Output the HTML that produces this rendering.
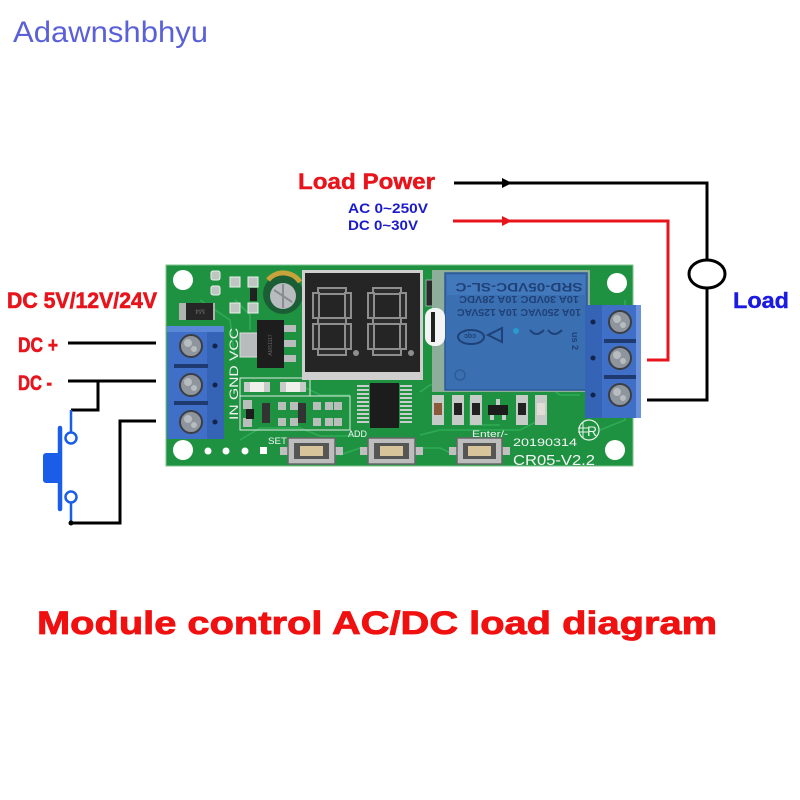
<!DOCTYPE html>
<html><head><meta charset="utf-8"><style>
html,body{margin:0;padding:0;background:#fff;}
svg{display:block;}
text{font-family:"Liberation Sans",sans-serif;}
</style></head><body>
<svg width="800" height="800" viewBox="0 0 800 800" xmlns="http://www.w3.org/2000/svg">
<rect width="800" height="800" fill="#fff"/>
<!-- watermark -->
<text x="13" y="42" font-size="30" fill="#5a60d8" textLength="195" lengthAdjust="spacingAndGlyphs">Adawnshbhyu</text>

<!-- top labels -->
<text x="298" y="189" font-size="22" font-weight="bold" fill="#e8141c" stroke="#e8141c" stroke-width="0.4" textLength="137" lengthAdjust="spacingAndGlyphs">Load Power</text>
<text x="348" y="213" font-size="14" font-weight="bold" fill="#1a1acc" textLength="80" lengthAdjust="spacingAndGlyphs">AC 0~250V</text>
<text x="348" y="230" font-size="14" font-weight="bold" fill="#1a1acc" textLength="70" lengthAdjust="spacingAndGlyphs">DC 0~30V</text>
<text x="733" y="308" font-size="22" font-weight="bold" fill="#1a1ae0" stroke="#1a1ae0" stroke-width="0.4" textLength="56" lengthAdjust="spacingAndGlyphs">Load</text>

<!-- load wiring -->
<g fill="none" stroke-linejoin="miter">
<polyline points="454,183 707,183 707,260" stroke="#000" stroke-width="3"/>
<polyline points="707,288 707,400 647,400" stroke="#000" stroke-width="3"/>
<ellipse cx="707" cy="274" rx="18" ry="14" stroke="#000" stroke-width="3"/>
<polyline points="453,221 668,221 668,360 647,360" stroke="#e8141c" stroke-width="3"/>
</g>
<polygon points="502,178 512,183 502,188" fill="#000"/>
<polygon points="502,216 512,221 502,226" fill="#e8141c"/>

<!-- left labels -->
<text x="7" y="308" font-size="22" font-weight="bold" fill="#e8141c" stroke="#e8141c" stroke-width="0.6" textLength="150" lengthAdjust="spacingAndGlyphs">DC 5V/12V/24V</text>
<text x="18" y="352" font-size="21" font-weight="bold" fill="#e8141c" stroke="#e8141c" stroke-width="0.6" textLength="40" lengthAdjust="spacingAndGlyphs">DC +</text>
<text x="18" y="390" font-size="21" font-weight="bold" fill="#e8141c" stroke="#e8141c" stroke-width="0.6" textLength="34" lengthAdjust="spacingAndGlyphs">DC -</text>

<!-- left wiring -->
<g fill="none" stroke="#000" stroke-width="3">
<line x1="68" y1="343" x2="156" y2="343"/>
<line x1="68" y1="381" x2="156" y2="381"/>
<polyline points="98,381 98,410 71,410"/>
<polyline points="71,523 120,523 120,421 156,421"/>
</g>
<!-- switch -->
<g stroke="#1a5de8" fill="none" stroke-width="2.5">
<line x1="71" y1="410" x2="71" y2="432"/>
<circle cx="71" cy="438" r="5.5" fill="#fff"/>
<circle cx="71" cy="497" r="5.5" fill="#fff"/>
<line x1="71" y1="503" x2="71" y2="523"/>
</g>
<line x1="60" y1="428" x2="60" y2="509" stroke="#1a5de8" stroke-width="4.5" stroke-linecap="round"/>
<rect x="43" y="453" width="18" height="30" rx="3" fill="#1a5de8"/>
<circle cx="71" cy="523" r="2.5" fill="#000"/>

<!-- PCB -->
<rect x="166" y="265" width="467" height="201" fill="#1f9242" stroke="#7fc48f" stroke-width="1"/>
<!-- traces -->
<g stroke="#2fab55" stroke-width="1.6" fill="none">
<polyline points="240,440 260,428 300,428 320,436 360,436"/>
<polyline points="235,300 250,315 250,330"/>
<polyline points="420,435 440,430 520,430 540,420"/>
<polyline points="300,385 320,395 350,395"/>
<polyline points="420,392 430,385 445,385"/>
<polyline points="200,300 230,320 235,360"/>
<polyline points="540,380 560,395 580,395"/>
<polyline points="340,455 360,448 440,448 455,455"/>
<polyline points="470,400 470,425 500,425"/>
<polyline points="600,430 625,420 625,300"/>
</g>
<!-- mounting holes -->
<circle cx="183" cy="280" r="10" fill="#fff"/>
<circle cx="183" cy="450" r="10" fill="#fff"/>
<circle cx="617" cy="283" r="10" fill="#fff"/>
<circle cx="615" cy="450" r="10" fill="#fff"/>
<g fill="#fff">
<circle cx="208" cy="451" r="3.5"/><circle cx="226" cy="451" r="3.5"/><circle cx="245" cy="451" r="3.5"/>
<rect x="260" y="447" width="7" height="7"/>
</g>

<!-- top-left small parts -->
<g fill="#bfc6c2" stroke="#e8f0ea" stroke-width="1">
<rect x="211" y="271" width="9" height="9" rx="2"/>
<rect x="211" y="286" width="9" height="9" rx="2"/>
<rect x="230" y="277" width="10" height="10"/>
<rect x="230" y="303" width="10" height="10"/>
<rect x="248" y="277" width="10" height="10"/>
<rect x="248" y="303" width="10" height="10"/>
</g>
<rect x="250" y="288" width="7" height="13" fill="#222"/>
<!-- diode M4 -->
<rect x="179" y="303" width="36" height="17" fill="#b0b4b0"/>
<rect x="186" y="303" width="27" height="17" fill="#262626"/>
<text x="200" y="315" font-size="7" fill="#666" text-anchor="middle" transform="rotate(180 200 312)">M4</text>
<!-- electrolytic cap -->
<circle cx="283" cy="294" r="20" fill="#1b5e36"/>
<path d="M268 280 A20 20 0 0 1 300 282" stroke="#c8a23a" stroke-width="5" fill="none"/>
<circle cx="283" cy="296" r="13" fill="#b9bcbf"/>
<path d="M274 290 L292 302 M283 284 L283 308" stroke="#8a8d90" stroke-width="2"/>
<!-- AMS1117 -->
<rect x="240" y="333" width="18" height="24" fill="#b8bcbc" stroke="#ddd"/>
<rect x="257" y="320" width="27" height="48" fill="#1d1d1d"/>
<g fill="#b8bcbc"><rect x="284" y="325" width="12" height="7"/><rect x="284" y="340" width="12" height="7"/><rect x="284" y="355" width="12" height="7"/></g>
<text x="272" y="345" font-size="5" fill="#666" text-anchor="middle" transform="rotate(-90 272 345)">AMS1117</text>
<!-- VCC GND IN -->
<text x="238" y="420" font-size="12" fill="#f2f2f2" font-family="Liberation Serif,serif" transform="rotate(-90 238 420)" textLength="92" lengthAdjust="spacingAndGlyphs">IN  GND VCC</text>
<!-- resistors 221 -->
<g>
<rect x="244" y="382" width="26" height="10" fill="#c8ccc8"/><rect x="250" y="382" width="14" height="10" fill="#f0f0ea"/>
<rect x="280" y="382" width="26" height="10" fill="#c8ccc8"/><rect x="286" y="382" width="14" height="10" fill="#f0f0ea"/>
<rect x="240" y="378" width="70" height="18" fill="none" stroke="#dfe9e0" stroke-width="1"/>
</g>
<!-- lower pad rows -->
<g fill="#b8bfbb">
<rect x="243" y="400" width="9" height="9"/><rect x="243" y="418" width="9" height="9"/>
<rect x="278" y="402" width="8" height="8"/><rect x="278" y="418" width="8" height="8"/>
<rect x="290" y="402" width="8" height="8"/><rect x="290" y="418" width="8" height="8"/>
<rect x="313" y="402" width="8" height="8"/><rect x="313" y="418" width="8" height="8"/>
<rect x="325" y="402" width="8" height="8"/><rect x="325" y="418" width="8" height="8"/>
<rect x="334" y="402" width="8" height="8"/><rect x="334" y="418" width="8" height="8"/>
</g>
<rect x="246" y="409" width="8" height="10" fill="#1d1d1d"/>
<rect x="262" y="403" width="8" height="20" fill="#333"/>
<rect x="298" y="403" width="8" height="20" fill="#333"/>
<rect x="240" y="396" width="110" height="34" fill="none" stroke="#dfe9e0" stroke-width="1"/>

<!-- display -->
<rect x="302" y="270" width="121" height="110" fill="#cfcfcf"/>
<rect x="305" y="273" width="115" height="99" fill="#252525"/>
<g fill="#2c2c2c" stroke="#8e8e8e" stroke-width="2">
<rect x="318" y="288" width="28" height="6"/>
<rect x="318" y="318" width="28" height="6"/>
<rect x="318" y="349" width="28" height="6"/>
<rect x="313" y="293" width="6" height="25"/>
<rect x="313" y="324" width="6" height="25"/>
<rect x="345" y="293" width="6" height="25"/>
<rect x="345" y="324" width="6" height="25"/>
<rect x="373" y="288" width="28" height="6"/>
<rect x="373" y="318" width="28" height="6"/>
<rect x="373" y="349" width="28" height="6"/>
<rect x="368" y="293" width="6" height="25"/>
<rect x="368" y="324" width="6" height="25"/>
<rect x="400" y="293" width="6" height="25"/>
<rect x="400" y="324" width="6" height="25"/>
</g>
<circle cx="356" cy="353" r="3" fill="#8e8e8e"/>
<circle cx="411" cy="353" r="3" fill="#8e8e8e"/>
<!-- small diode near display -->
<rect x="426" y="280" width="9" height="26" fill="#2a2a2a" stroke="#9aa" stroke-width="1"/>

<!-- IC -->
<g fill="#c8cdca">
<rect x="357" y="385" width="12" height="2"/><rect x="357" y="389" width="12" height="2"/><rect x="357" y="393" width="12" height="2"/><rect x="357" y="397" width="12" height="2"/><rect x="357" y="401" width="12" height="2"/><rect x="357" y="405" width="12" height="2"/><rect x="357" y="409" width="12" height="2"/><rect x="357" y="413" width="12" height="2"/><rect x="357" y="417" width="12" height="2"/><rect x="357" y="421" width="12" height="2"/>
<rect x="400" y="385" width="12" height="2"/><rect x="400" y="389" width="12" height="2"/><rect x="400" y="393" width="12" height="2"/><rect x="400" y="397" width="12" height="2"/><rect x="400" y="401" width="12" height="2"/><rect x="400" y="405" width="12" height="2"/><rect x="400" y="409" width="12" height="2"/><rect x="400" y="413" width="12" height="2"/><rect x="400" y="417" width="12" height="2"/><rect x="400" y="421" width="12" height="2"/>
</g>
<rect x="370" y="383" width="29" height="45" fill="#1c1c1c"/>

<!-- relay -->
<rect x="432" y="270" width="158" height="122" fill="#8fae9a"/>
<rect x="445" y="273" width="142" height="117" fill="#3a6fb2" stroke="#2a5896" stroke-width="1.5"/>
<rect x="447" y="275" width="138" height="20" fill="#4279bd"/>
<g transform="rotate(180 516 331)" fill="#1f4177" font-weight="bold">
<text x="513" y="379" font-size="12" text-anchor="middle" textLength="127" lengthAdjust="spacingAndGlyphs">SRD-05VDC-SL-C</text>
<text x="513" y="366" font-size="10" text-anchor="middle" textLength="120" lengthAdjust="spacingAndGlyphs">10A 30VDC   10A 28VDC</text>
<text x="513" y="353" font-size="10" text-anchor="middle" textLength="124" lengthAdjust="spacingAndGlyphs">10A 250VAC  10A 125VAC</text>
</g>
<g fill="none" stroke="#1f4177" stroke-width="2">
<ellipse cx="471" cy="337" rx="13" ry="7"/>
<polygon points="488,335 502,328 502,342"/>
<path d="M530 330 q6 8 14 0 M548 330 q6 8 14 0"/>
</g>
<text x="470" y="340" font-size="7" fill="#1f4177" text-anchor="middle" font-weight="bold" transform="rotate(180 470 337)">cqc</text>
<text x="572" y="332" font-size="9" fill="#1f4177" font-weight="bold" transform="rotate(90 572 332)">us 2</text>
<circle cx="516" cy="331" r="3" fill="#2a9ad0"/>
<circle cx="460" cy="375" r="5" fill="none" stroke="#2e5c96" stroke-width="1.5"/>
<!-- white oval slot -->
<rect x="425" y="308" width="20" height="38" rx="9" fill="#f4f4f4"/>
<rect x="431" y="312" width="4" height="30" fill="#222"/>

<!-- parts under relay -->
<g>
<rect x="432" y="395" width="12" height="30" fill="#c7cbc8"/>
<rect x="452" y="395" width="12" height="30" fill="#c7cbc8"/>
<rect x="470" y="395" width="12" height="30" fill="#c7cbc8"/>
<rect x="516" y="395" width="12" height="30" fill="#c7cbc8"/>
<rect x="535" y="395" width="12" height="30" fill="#c7cbc8"/>
</g>
<rect x="434" y="403" width="8" height="12" fill="#8a5a3a"/>
<rect x="454" y="403" width="8" height="12" fill="#222"/>
<rect x="472" y="403" width="8" height="12" fill="#222"/>
<rect x="518" y="403" width="8" height="12" fill="#222"/>
<rect x="537" y="403" width="8" height="12" fill="#e0ddd5"/>
<rect x="488" y="405" width="20" height="10" fill="#1c1c1c"/>
<g fill="#c8cdca"><rect x="496" y="399" width="4" height="6"/><rect x="490" y="415" width="4" height="5"/><rect x="502" y="415" width="4" height="5"/></g>

<!-- buttons -->
<g>
<rect x="280" y="447" width="9" height="8" fill="#c0c0c0"/><rect x="334" y="447" width="9" height="8" fill="#c0c0c0"/>
<rect x="288" y="438" width="47" height="26" fill="#bdbdbd" stroke="#666" stroke-width="1.5"/>
<rect x="294" y="443" width="35" height="16" fill="#555"/>
<rect x="300" y="446" width="23" height="10" fill="#d8c49a"/>
<rect x="360" y="447" width="9" height="8" fill="#c0c0c0"/><rect x="414" y="447" width="9" height="8" fill="#c0c0c0"/>
<rect x="368" y="438" width="47" height="26" fill="#bdbdbd" stroke="#666" stroke-width="1.5"/>
<rect x="374" y="443" width="35" height="16" fill="#555"/>
<rect x="380" y="446" width="23" height="10" fill="#d8c49a"/>
<rect x="449" y="447" width="9" height="8" fill="#c0c0c0"/><rect x="501" y="447" width="9" height="8" fill="#c0c0c0"/>
<rect x="457" y="438" width="45" height="26" fill="#bdbdbd" stroke="#666" stroke-width="1.5"/>
<rect x="463" y="443" width="33" height="16" fill="#555"/>
<rect x="468" y="446" width="23" height="10" fill="#d8c49a"/>
</g>
<g fill="#f4f4f4">
<text x="268" y="444" font-size="9" textLength="19" lengthAdjust="spacingAndGlyphs">SET</text>
<text x="348" y="437" font-size="9" textLength="19" lengthAdjust="spacingAndGlyphs">ADD</text>
<text x="472" y="437" font-size="9" textLength="36" lengthAdjust="spacingAndGlyphs">Enter/-</text>
<text x="513" y="446" font-size="11" textLength="64" lengthAdjust="spacingAndGlyphs">20190314</text>
<text x="513" y="465" font-size="15" textLength="82" lengthAdjust="spacingAndGlyphs">CR05-V2.2</text>
</g>
<circle cx="589" cy="430" r="10" fill="none" stroke="#e8f3ea" stroke-width="1.2"/>
<text x="587" y="436" font-size="14" fill="#e8f3ea" font-family="Liberation Serif,serif">R</text>
<path d="M578 428 h10 M578 432 h10 M583 422 v16" stroke="#e8f3ea" stroke-width="1"/>

<!-- left terminal block -->
<rect x="167" y="326" width="57" height="113" fill="#3f6fc6"/>
<rect x="167" y="326" width="57" height="6" fill="#5a88d8"/>
<rect x="207" y="332" width="17" height="107" fill="#3563b6"/>
<g fill="#1e3a70"><rect x="174" y="364" width="34" height="4"/><rect x="174" y="401" width="34" height="4"/></g>
<g fill="#13234a"><circle cx="215" cy="346" r="2.5"/><circle cx="215" cy="385" r="2.5"/><circle cx="215" cy="422" r="2.5"/></g>
<g stroke="#3b3e44" stroke-width="2" fill="#8f959c">
<circle cx="191" cy="346" r="11"/><circle cx="191" cy="385" r="11"/><circle cx="191" cy="422" r="11"/>
</g>
<g fill="#b7bcc1">
<circle cx="188" cy="343" r="4"/><circle cx="194" cy="349" r="3"/>
<circle cx="188" cy="382" r="4"/><circle cx="194" cy="388" r="3"/>
<circle cx="188" cy="419" r="4"/><circle cx="194" cy="425" r="3"/>
</g>

<!-- right terminal block -->
<rect x="585" y="305" width="56" height="113" fill="#3f6fc6"/>
<rect x="585" y="305" width="17" height="113" fill="#3563b6"/>
<rect x="636" y="305" width="5" height="113" fill="#6b93db"/>
<g fill="#1e3a70"><rect x="604" y="339" width="32" height="4"/><rect x="604" y="375" width="32" height="4"/></g>
<g fill="#13234a"><circle cx="593" cy="322" r="2.5"/><circle cx="593" cy="358" r="2.5"/><circle cx="593" cy="395" r="2.5"/></g>
<g stroke="#3b3e44" stroke-width="2" fill="#8f959c">
<circle cx="620" cy="322" r="11"/><circle cx="620" cy="358" r="11"/><circle cx="620" cy="395" r="11"/>
</g>
<g fill="#b7bcc1">
<circle cx="617" cy="319" r="4"/><circle cx="623" cy="325" r="3"/>
<circle cx="617" cy="355" r="4"/><circle cx="623" cy="361" r="3"/>
<circle cx="617" cy="392" r="4"/><circle cx="623" cy="398" r="3"/>
</g>

<!-- title -->
<text x="37" y="634" font-size="32" font-weight="bold" fill="#f01010" stroke="#f01010" stroke-width="0.8" textLength="680" lengthAdjust="spacingAndGlyphs">Module control AC/DC load diagram</text>
</svg>
</body></html>
